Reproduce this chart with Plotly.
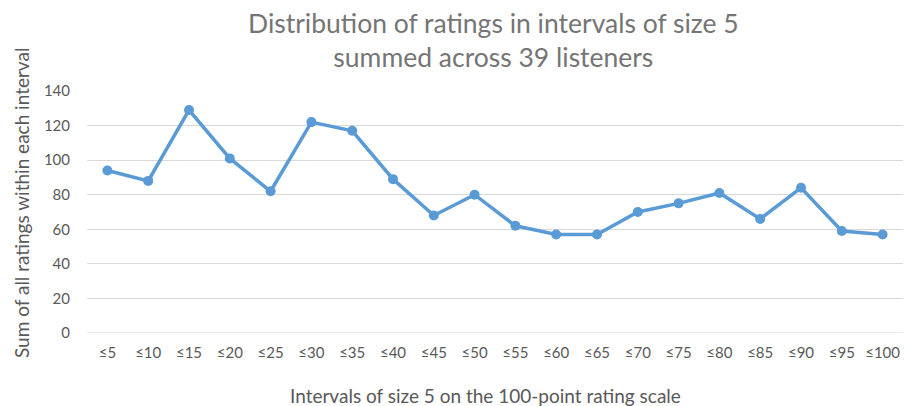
import plotly.graph_objects as go

categories = ["≤5", "≤10", "≤15", "≤20", "≤25", "≤30", "≤35", "≤40", "≤45", "≤50",
              "≤55", "≤60", "≤65", "≤70", "≤75", "≤80", "≤85", "≤90", "≤95", "≤100"]
values = [94, 88, 129, 101, 82, 122, 117, 89, 68, 80,
          62, 57, 57, 70, 75, 81, 66, 84, 59, 57]
y_ticks = [0, 20, 40, 60, 80, 100, 120, 140]

font_family = "Lato, 'Open Sans', sans-serif"
grey = "#595959"

W, H = 905, 406
L, R, T, B = 87, 2, 91, 73
PW, PH = W - L - R, H - T - B


def px_x(x):
    return (x - L) / PW


def px_y(y):
    return (H - B - y) / PH


fig = go.Figure()
fig.add_trace(go.Scatter(
    x=categories, y=values, mode="lines+markers",
    line=dict(color="#5B9BD5", width=3.5),
    marker=dict(color="#5B9BD5", size=10),
    showlegend=False, cliponaxis=False,
))

fig.update_layout(
    width=W, height=H,
    margin=dict(l=L, r=R, t=T, b=B, autoexpand=False),
    paper_bgcolor="white", plot_bgcolor="white",
    font=dict(family=font_family, color=grey),
    xaxis=dict(
        type="category", range=[-0.5, len(categories) - 0.5],
        showgrid=False, showline=False, zeroline=False,
        ticks="", tickfont=dict(size=15, color=grey), automargin=False,
        ticklabelstandoff=9,
    ),
    yaxis=dict(
        range=[0, 140], tickvals=y_ticks, showgrid=True, gridcolor="#D9D9D9",
        gridwidth=1, zeroline=False, showline=False, ticks="", automargin=False,
        tickfont=dict(size=15, color=grey), ticklabelstandoff=16,
    ),
    annotations=[
        dict(text="Distribution of ratings in intervals of size 5<br>summed across 39 listeners",
             xref="paper", yref="paper", x=px_x(493), y=px_y(39.5),
             xanchor="center", yanchor="middle", showarrow=False,
             font=dict(size=26.5, color="#757575", family=font_family)),
        dict(text="Intervals of size 5 on the 100-point rating scale",
             xref="paper", yref="paper", x=px_x(485), y=px_y(395),
             xanchor="center", yanchor="middle", showarrow=False,
             font=dict(size=19, color=grey, family=font_family)),
        dict(text="Sum of all ratings within each interval",
             xref="paper", yref="paper", x=px_x(21), y=px_y(203),
             xanchor="center", yanchor="middle", showarrow=False, textangle=-90,
             font=dict(size=19, color=grey, family=font_family)),
    ],
)
fig.add_shape(type="line", xref="paper", yref="y", x0=0, x1=1, y0=0, y1=0,
              line=dict(color="#D9D9D9", width=1), layer="below")

fig.write_html("out.html", config={"displayModeBar": False},
               post_script="document.body.style.margin='0';")
